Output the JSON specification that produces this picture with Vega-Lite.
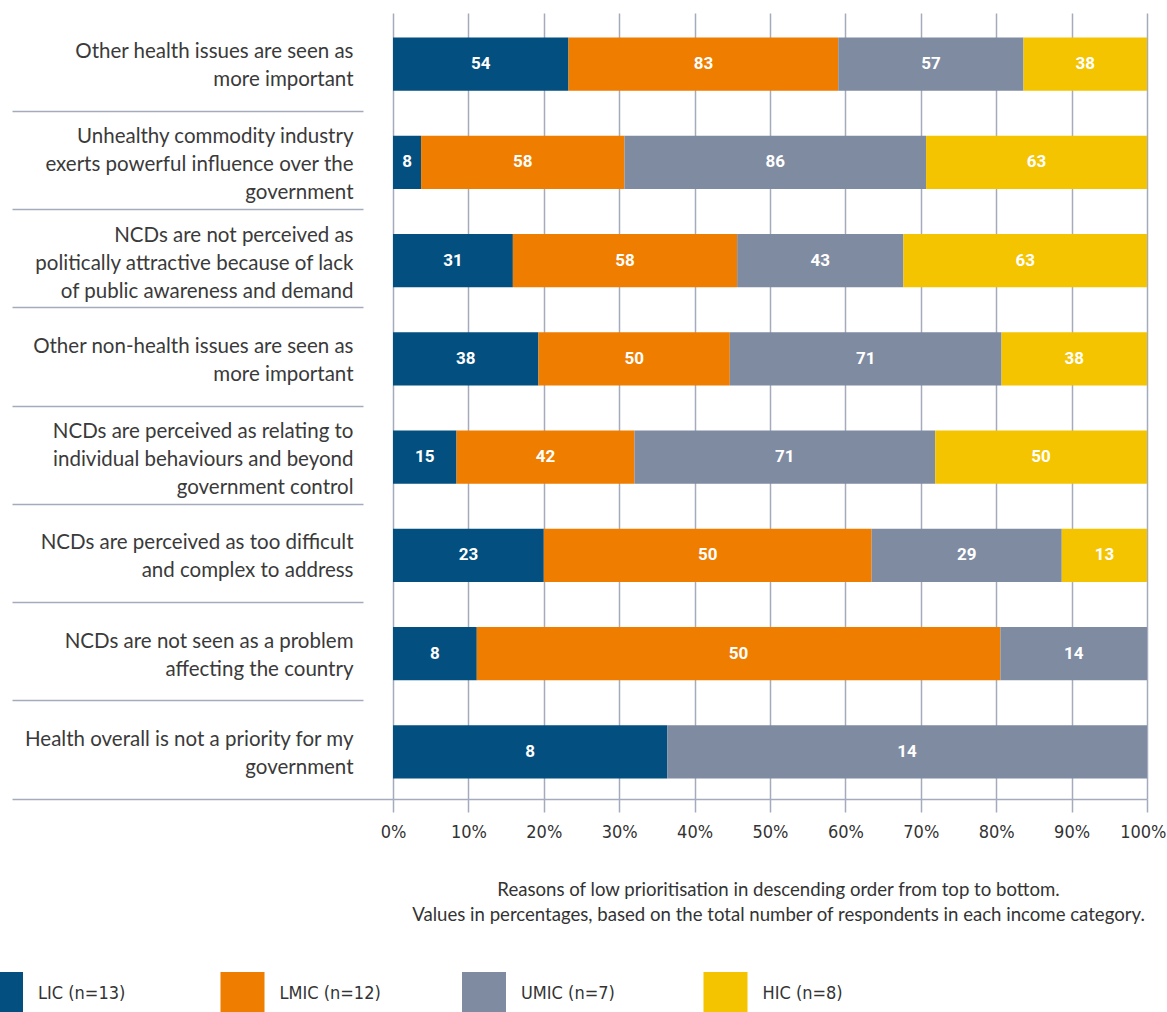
{
  "$schema": "https://vega.github.io/schema/vega-lite/v6.json",
  "width": 754,
  "height": 786,
  "autosize": {"type": "none"},
  "padding": {"left": 393, "top": 13, "right": 20, "bottom": 213},
  "background": "white",
  "config": {"view": {"stroke": null}},
  "data": {
    "values": [
      {"reason": "Other health issues are seen as|more important", "group": "LIC (n=13)", "ord": 1, "value": 54},
      {"reason": "Other health issues are seen as|more important", "group": "LMIC (n=12)", "ord": 2, "value": 83},
      {"reason": "Other health issues are seen as|more important", "group": "UMIC (n=7)", "ord": 3, "value": 57},
      {"reason": "Other health issues are seen as|more important", "group": "HIC (n=8)", "ord": 4, "value": 38},
      {"reason": "Unhealthy commodity industry|exerts powerful influence over the|government", "group": "LIC (n=13)", "ord": 1, "value": 8},
      {"reason": "Unhealthy commodity industry|exerts powerful influence over the|government", "group": "LMIC (n=12)", "ord": 2, "value": 58},
      {"reason": "Unhealthy commodity industry|exerts powerful influence over the|government", "group": "UMIC (n=7)", "ord": 3, "value": 86},
      {"reason": "Unhealthy commodity industry|exerts powerful influence over the|government", "group": "HIC (n=8)", "ord": 4, "value": 63},
      {"reason": "NCDs are not perceived as|politically attractive because of lack|of public awareness and demand", "group": "LIC (n=13)", "ord": 1, "value": 31},
      {"reason": "NCDs are not perceived as|politically attractive because of lack|of public awareness and demand", "group": "LMIC (n=12)", "ord": 2, "value": 58},
      {"reason": "NCDs are not perceived as|politically attractive because of lack|of public awareness and demand", "group": "UMIC (n=7)", "ord": 3, "value": 43},
      {"reason": "NCDs are not perceived as|politically attractive because of lack|of public awareness and demand", "group": "HIC (n=8)", "ord": 4, "value": 63},
      {"reason": "Other non-health issues are seen as|more important", "group": "LIC (n=13)", "ord": 1, "value": 38},
      {"reason": "Other non-health issues are seen as|more important", "group": "LMIC (n=12)", "ord": 2, "value": 50},
      {"reason": "Other non-health issues are seen as|more important", "group": "UMIC (n=7)", "ord": 3, "value": 71},
      {"reason": "Other non-health issues are seen as|more important", "group": "HIC (n=8)", "ord": 4, "value": 38},
      {"reason": "NCDs are perceived as relating to|individual behaviours and beyond|government control", "group": "LIC (n=13)", "ord": 1, "value": 15},
      {"reason": "NCDs are perceived as relating to|individual behaviours and beyond|government control", "group": "LMIC (n=12)", "ord": 2, "value": 42},
      {"reason": "NCDs are perceived as relating to|individual behaviours and beyond|government control", "group": "UMIC (n=7)", "ord": 3, "value": 71},
      {"reason": "NCDs are perceived as relating to|individual behaviours and beyond|government control", "group": "HIC (n=8)", "ord": 4, "value": 50},
      {"reason": "NCDs are perceived as too difficult|and complex to address", "group": "LIC (n=13)", "ord": 1, "value": 23},
      {"reason": "NCDs are perceived as too difficult|and complex to address", "group": "LMIC (n=12)", "ord": 2, "value": 50},
      {"reason": "NCDs are perceived as too difficult|and complex to address", "group": "UMIC (n=7)", "ord": 3, "value": 29},
      {"reason": "NCDs are perceived as too difficult|and complex to address", "group": "HIC (n=8)", "ord": 4, "value": 13},
      {"reason": "NCDs are not seen as a problem|affecting the country", "group": "LIC (n=13)", "ord": 1, "value": 8},
      {"reason": "NCDs are not seen as a problem|affecting the country", "group": "LMIC (n=12)", "ord": 2, "value": 50},
      {"reason": "NCDs are not seen as a problem|affecting the country", "group": "UMIC (n=7)", "ord": 3, "value": 14},
      {"reason": "Health overall is not a priority for my|government", "group": "LIC (n=13)", "ord": 1, "value": 8},
      {"reason": "Health overall is not a priority for my|government", "group": "UMIC (n=7)", "ord": 3, "value": 14}
    ]
  },
  "encoding": {
    "y": {
      "field": "reason",
      "type": "nominal",
      "sort": null,
      "scale": {"paddingInner": 0.46, "paddingOuter": 0.23},
      "axis": {
        "title": null,
        "domain": false,
        "grid": false,
        "ticks": true,
        "tickSize": 381,
        "tickColor": "#a3abbc",
        "tickWidth": 1.5,
        "bandPosition": 1.426,
        "tickDash": {"condition": {"test": "datum.value === 'Health overall is not a priority for my|government'", "value": [400, 0]}, "value": [351, 30]},
        "tickDashOffset": {"condition": {"test": "datum.value === 'Health overall is not a priority for my|government'", "value": 0}, "value": 351},
        "labelExpr": "split(datum.label, '|')",
        "labelAlign": "right",
        "labelBaseline": "middle",
        "labelOffset": {"condition": {"test": "length(split(datum.value, '|')) === 3", "value": -23}, "value": -10},
        "labelPadding": -341,
        "labelFont": "Lato",
        "labelFontSize": 20.5,
        "labelColor": "#3a3a3a",
        "labelLineHeight": 28,
        "labelLimit": 0
      }
    },
    "color": {
      "field": "group",
      "type": "nominal",
      "scale": {
        "domain": ["LIC (n=13)", "LMIC (n=12)", "UMIC (n=7)", "HIC (n=8)"],
        "range": ["#034f7f", "#ef7d00", "#7f8ba1", "#f4c400"]
      },
      "legend": {
        "title": null,
        "orient": "none",
        "legendX": -414,
        "legendY": 959,
        "direction": "horizontal",
        "columns": 4,
        "gridAlign": "all",
        "columnPadding": 80.5,
        "padding": 0,
        "symbolType": "square",
        "symbolSize": 1936,
        "symbolStrokeWidth": 0,
        "symbolOpacity": 1,
        "labelFont": "DejaVu Sans Condensed, Roboto, sans-serif",
        "labelFontSize": 18,
        "labelColor": "#333333",
        "labelOffset": 15
      }
    },
    "order": {"field": "ord", "type": "quantitative"}
  },
  "layer": [
    {
      "mark": {"type": "bar", "yOffset": 2},
      "encoding": {
        "x": {
          "field": "value",
          "type": "quantitative",
          "stack": "normalize",
          "axis": {
            "values": [0, 0.1, 0.2, 0.3, 0.4, 0.5, 0.6, 0.7, 0.8, 0.9, 1],
            "format": ".0%",
            "grid": true,
            "gridColor": "#a3abbc",
            "gridWidth": 1.5,
            "domain": true,
            "domainColor": "#a3abbc",
            "domainWidth": 1.5,
            "ticks": true,
            "tickSize": 13,
            "tickColor": "#a3abbc",
            "tickWidth": 1.5,
            "labelFlush": false,
            "labelAlign": {"condition": {"test": "datum.value === 1", "value": "right"}, "value": "center"},
            "labelOffset": {"condition": {"test": "datum.value === 1", "value": 19}, "value": 0},
            "labelFont": "DejaVu Sans Condensed, Roboto, sans-serif",
            "labelFontSize": 18,
            "labelColor": "#333333",
            "labelPadding": 11,
            "title": ["Reasons of low prioritisation in descending order from top to bottom.", "Values in percentages, based on the total number of respondents in each income category."],
            "titleFont": "Lato",
            "titleFontSize": 18.6,
            "titleFontWeight": "normal",
            "titleColor": "#333333",
            "titleLineHeight": 25,
            "titlePadding": 39,
            "titleX": 385
          }
        }
      }
    },
    {
      "mark": {"type": "text", "font": "Roboto", "fontSize": 17, "fontWeight": "bold", "color": "white", "dy": 2, "baseline": "middle", "align": "center"},
      "encoding": {
        "x": {"field": "value", "type": "quantitative", "stack": "normalize", "bandPosition": 0.5},
        "detail": {"field": "group"},
        "color": {"value": "white"},
        "text": {"field": "value", "type": "quantitative"}
      }
    }
  ]
}
